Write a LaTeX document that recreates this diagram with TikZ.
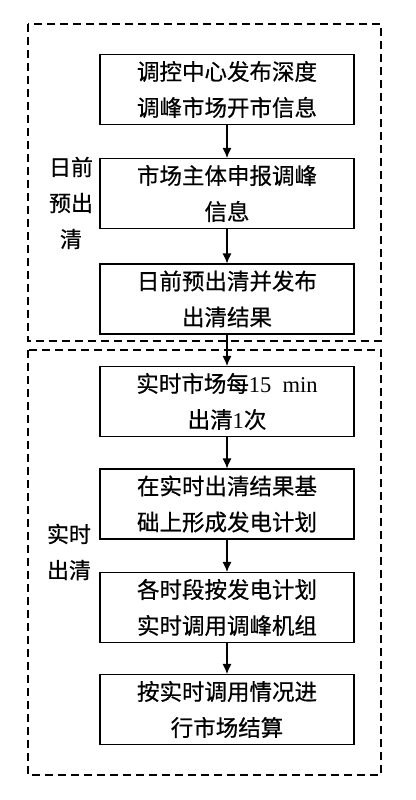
\documentclass[tikz,border=0pt]{standalone}
\usepackage{fontspec}
\setmainfont{Liberation Serif}
\newfontfamily\cjk[FakeBold=0.6]{Noto Sans CJK SC}
\usetikzlibrary{arrows.meta}

\tikzset{
  box/.style={draw, line width=1.1pt, minimum width=254pt, minimum height=70pt,
    align=center, inner sep=0pt, font=\cjk\fontsize{22.5}{36}\selectfont},
  phase/.style={align=center, inner sep=0pt, font=\cjk\fontsize{22}{36}\selectfont},
  stage/.style={dashed, line width=1.2pt, dash pattern=on 8pt off 5pt}
}

\begin{document}
\begin{tikzpicture}[x=1pt, y=-1pt]
      \useasboundingbox (0,0) rectangle (415,800);
      % the two stages
      \draw[stage] (28,24) rectangle (381,341);
      \draw[stage] (28,350) rectangle (381,775);
      \draw
        (71,203) node[phase] (da) {日前\\预出\\清}
        (69,552) node[phase] (rt) {实时\\出清};
      \draw
        (227,89.5) node[box] (1) {调控中心发布深度\\调峰市场开市信息}
        (227,193.5) node[box] (2) {市场主体申报调峰\\信息}
        (227,299) node[box] (3) {日前预出清并发布\\出清结果}
        (227,401.5) node[box] (4) {实时市场每{\rmfamily 15\ \ min}\\出清{\rmfamily 1}次}
        (227,504) node[box] (5) {在实时出清结果基\\础上形成发电计划}
        (227,607.5) node[box] (6) {各时段按发电计划\\实时调用调峰机组}
        (227,709.5) node[box] (7) {按实时调用情况进\\行市场结算};
      \begin{scope}[-{Latex[length=10pt,width=9pt]}, line width=1.1pt]
        \draw (1) to (2);
        \draw (2) to (3);
        \draw (3) to (4);
        \draw (4) to (5);
        \draw (5) to (6);
        \draw (6) to (7);
      \end{scope}
    \end{tikzpicture}
\end{document}
